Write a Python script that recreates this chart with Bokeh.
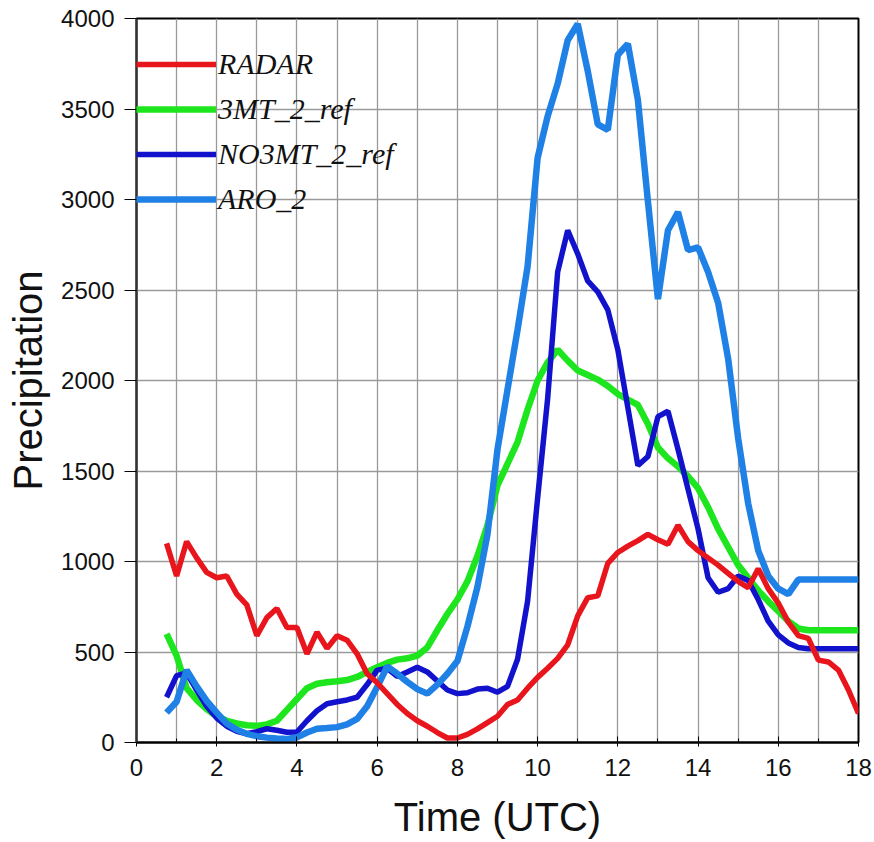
from bokeh.plotting import figure
from bokeh.models import Range1d, SingleIntervalTicker, Legend, LegendItem
from bokeh.embed import file_html
from bokeh.resources import INLINE

# ---- data ----
time = [0.75, 1.0, 1.25, 1.5, 1.75, 2.0, 2.25, 2.5, 2.75, 3.0, 3.25, 3.5, 3.75, 4.0,
        4.25, 4.5, 4.75, 5.0, 5.25, 5.5, 5.75, 6.0, 6.25, 6.5, 6.75, 7.0, 7.25, 7.5,
        7.75, 8.0, 8.25, 8.5, 8.75, 9.0, 9.25, 9.5, 9.75, 10.0, 10.25, 10.5, 10.75,
        11.0, 11.25, 11.5, 11.75, 12.0, 12.25, 12.5, 12.75, 13.0, 13.25, 13.5, 13.75,
        14.0, 14.25, 14.5, 14.75, 15.0, 15.25, 15.5, 15.75, 16.0, 16.25, 16.5, 16.75,
        17.0, 17.25, 17.5, 17.75, 18.0]

radar = [1100, 920, 1110, 1020, 940, 910, 920, 820, 760, 590, 690, 740, 635, 635,
         490, 610, 520, 590, 565, 490, 380, 330, 270, 210, 160, 120, 90, 55,
         25, 25, 45, 75, 110, 145, 210, 235, 300, 360, 410, 465, 540,
         700, 800, 810, 990, 1050, 1085, 1115, 1150, 1120, 1095, 1200, 1110,
         1060, 1020, 980, 935, 890, 855, 960, 850, 770, 665, 590, 575,
         455, 445, 400, 290, 160]

mt3_ref = [600, 480, 300, 235, 185, 145, 120, 105, 95, 92, 100, 120, 180, 240,
           300, 325, 333, 338, 345, 362, 390, 416, 440, 458, 465, 480, 525, 620,
           710, 790, 890, 1030, 1200, 1420, 1540, 1660, 1840, 2000, 2100, 2170, 2110,
           2055, 2030, 2005, 1970, 1925, 1895, 1865, 1760, 1630, 1570, 1525, 1470,
           1405, 1300, 1180, 1080, 980, 910, 840, 780, 725, 670, 630, 620,
           620, 620, 620, 620, 620]

no3mt_ref = [250, 370, 385, 290, 200, 135, 90, 62, 48, 60, 76, 68, 57, 58,
             120, 175, 214, 225, 235, 250, 320, 400, 410, 365, 390, 416, 390, 340,
             290, 270, 275, 295, 300, 278, 310, 460, 780, 1350, 1900, 2600, 2830,
             2700, 2550, 2490, 2390, 2170, 1850, 1530, 1580, 1800, 1830, 1620, 1400,
             1180, 910, 830, 850, 920, 895, 790, 670, 595, 550, 525, 518,
             518, 518, 518, 518, 518]

aro_2 = [165, 225, 400, 310, 230, 165, 105, 70, 48, 35, 27, 22, 20, 28,
         55, 76, 80, 85, 100, 130, 200, 306, 420, 380, 335, 295, 270, 320,
         380, 450, 640, 860, 1150, 1620, 1950, 2280, 2630, 3230, 3460, 3640, 3880,
         3970, 3710, 3415, 3385, 3800, 3860, 3550, 2990, 2450, 2830, 2930, 2720,
         2735, 2600, 2430, 2120, 1680, 1320, 1060, 920, 850, 820, 900, 900,
         900, 900, 900, 900, 900]

series_names = ["RADAR", "3MT_2_ref", "NO3MT_2_ref", "ARO_2"]
series_colors = ["#e8161c", "#1ee61e", "#1212cc", "#1f80e6"]
series_widths = [5.5, 6.5, 5.5, 6.5]

# ---- figure ----
p = figure(width=874, height=842, x_range=Range1d(0, 18), y_range=Range1d(0, 4000),
           output_backend="svg", toolbar_location=None,
           min_border_left=136, min_border_right=16, min_border_top=18, min_border_bottom=100)
p.background_fill_color = "white"
p.border_fill_color = "white"
p.outline_line_color = "black"
p.outline_line_width = 2

# axes
xa = p.xaxis[0]
xa.ticker = SingleIntervalTicker(interval=2, num_minor_ticks=2)
xa.axis_label = "Time (UTC)"
xa.axis_label_text_font = "Liberation Sans"
xa.axis_label_text_font_style = "normal"
xa.axis_label_text_font_size = "40px"
xa.axis_label_text_color = "#111111"
xa.axis_label_standoff = 16
xa.major_label_text_font = "Liberation Sans"
xa.major_label_text_font_size = "24px"
xa.major_label_text_color = "#111111"
xa.major_label_standoff = 12
xa.major_tick_in = 6
xa.major_tick_out = 4
xa.minor_tick_in = 4
xa.minor_tick_out = 0
xa.axis_line_width = 2
xa.axis_line_color = "black"

ya = p.yaxis[0]
ya.ticker = SingleIntervalTicker(interval=500, num_minor_ticks=0)
ya.axis_label = "Precipitation"
ya.axis_label_text_font = "Liberation Sans"
ya.axis_label_text_font_style = "normal"
ya.axis_label_text_font_size = "40px"
ya.axis_label_text_color = "#111111"
ya.axis_label_standoff = 8
ya.major_label_text_font = "Liberation Sans"
ya.major_label_text_font_size = "24px"
ya.major_label_text_color = "#111111"
ya.major_label_standoff = 10
ya.major_tick_in = 0
ya.major_tick_out = 12
ya.minor_tick_out = 0
ya.axis_line_width = 2
ya.axis_line_color = "#333333"

# grid
p.xgrid.ticker = SingleIntervalTicker(interval=1)
p.ygrid.ticker = SingleIntervalTicker(interval=500)
for g in (p.xgrid[0], p.ygrid[0]):
    g.grid_line_color = "#9a9a9a"
    g.grid_line_width = 1.3

# lines
all_y = {"RADAR": radar, "3MT_2_ref": mt3_ref, "NO3MT_2_ref": no3mt_ref, "ARO_2": aro_2}
renderers = {}
draw_order = ["3MT_2_ref", "NO3MT_2_ref", "ARO_2", "RADAR"]
for name in draw_order:
    i = series_names.index(name)
    renderers[name] = p.line(time, all_y[name], line_color=series_colors[i],
                             line_width=series_widths[i])

legend = Legend(items=[LegendItem(label=n, renderers=[renderers[n]]) for n in series_names],
                location=(0, 526), orientation="vertical",
                glyph_width=80, glyph_height=20, label_height=20, label_standoff=2,
                spacing=11, padding=0, margin=0,
                label_text_font="Liberation Serif", label_text_font_style="italic",
                label_text_font_size="30px", label_text_color="#111111",
                background_fill_alpha=0, border_line_alpha=0)
p.add_layout(legend)

open("out.html", "w").write(file_html(p, INLINE))
